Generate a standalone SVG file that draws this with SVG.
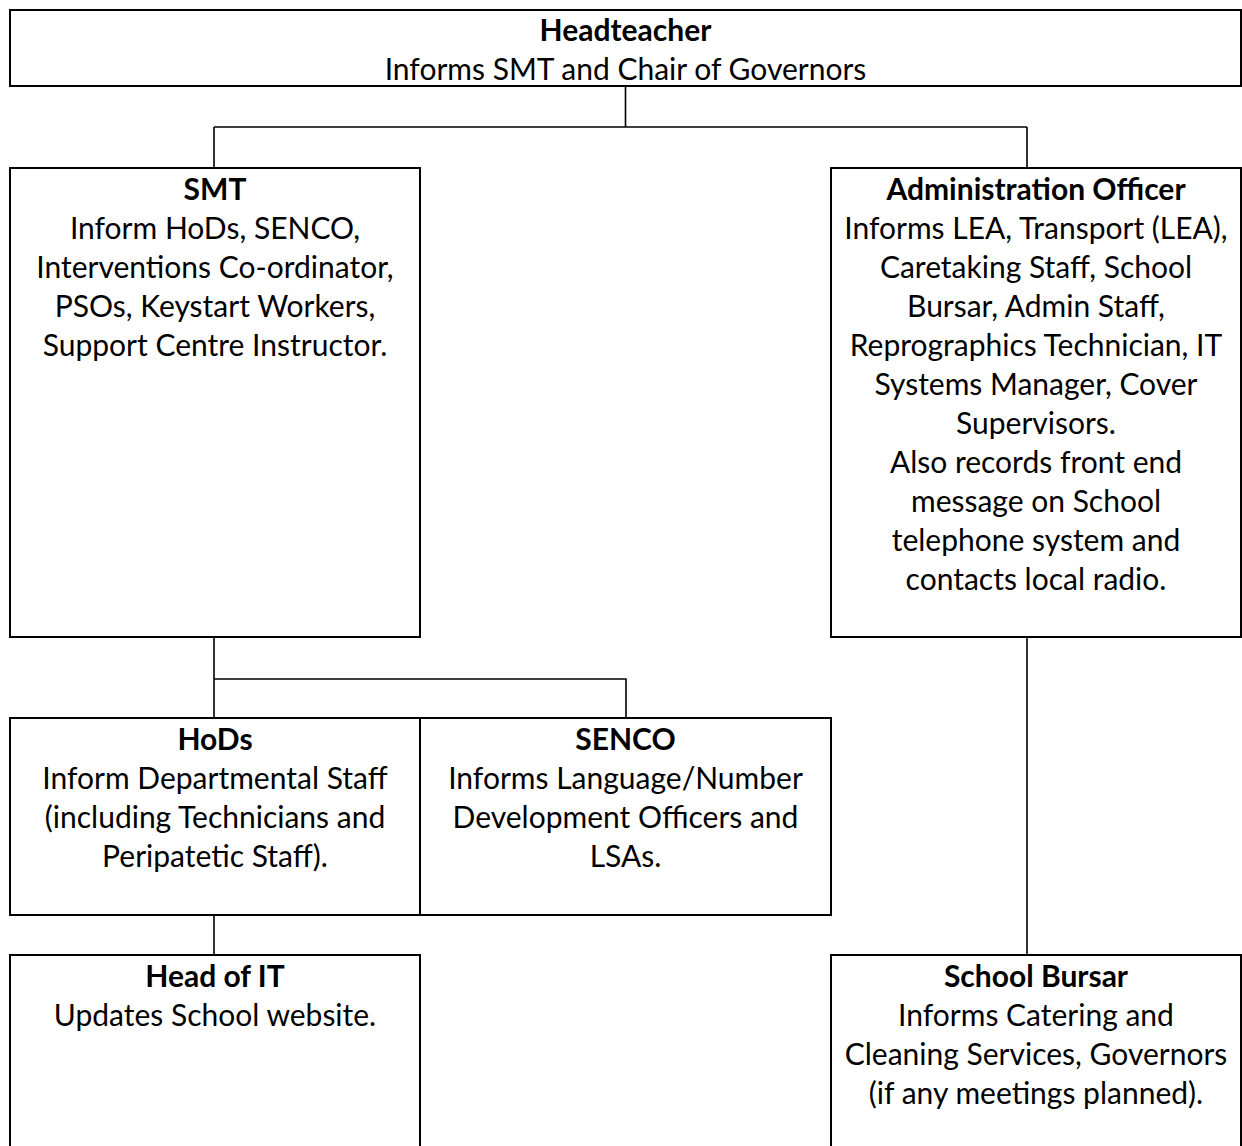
<svg xmlns="http://www.w3.org/2000/svg" width="1242" height="1146" viewBox="0 0 1242 1146">
<style>
.box{fill:#fff;stroke:#000;stroke-width:2}
.con{fill:none;stroke:#000;stroke-width:1.6}
text{font-family:Lato,"Liberation Sans",sans-serif;font-size:30px;fill:#000;text-anchor:middle}
.b{font-weight:bold}
</style>
<rect width="1242" height="1146" fill="#fff"/>
<g id="connectors">
<path class="con" d="M625.5 86V127M214 127H1027M214 127V168M1027 127V168"/>
<path class="con" d="M214 637V679H626V718M214 679V718"/>
<path class="con" d="M214 915V955"/>
<path class="con" d="M1027 637V955"/>
</g>
<g id="headteacher">
<rect class="box" x="10" y="10" width="1231" height="76"/>
<text x="625.5" y="41" class="b">Headteacher</text>
<text x="625.5" y="80">Informs SMT and Chair of Governors</text>
</g>
<g id="smt">
<rect class="box" x="10" y="168" width="410" height="469"/>
<text x="215" y="200" class="b">SMT</text>
<text x="215" y="239">Inform HoDs, SENCO,</text>
<text x="215" y="278">Interventions Co-ordinator,</text>
<text x="215" y="317">PSOs, Keystart Workers,</text>
<text x="215" y="356">Support Centre Instructor.</text>
</g>
<g id="admin">
<rect class="box" x="831" y="168" width="410" height="469"/>
<text x="1036" y="200" class="b">Administration Officer</text>
<text x="1036" y="239">Informs LEA, Transport (LEA),</text>
<text x="1036" y="278">Caretaking Staff, School</text>
<text x="1036" y="317">Bursar, Admin Staff,</text>
<text x="1036" y="356">Reprographics Technician, IT</text>
<text x="1036" y="395">Systems Manager, Cover</text>
<text x="1036" y="434">Supervisors.</text>
<text x="1036" y="473">Also records front end</text>
<text x="1036" y="512">message on School</text>
<text x="1036" y="551">telephone system and</text>
<text x="1036" y="590">contacts local radio.</text>
</g>
<g id="hods">
<rect class="box" x="10" y="718" width="410" height="197"/>
<text x="215" y="750" class="b">HoDs</text>
<text x="215" y="789">Inform Departmental Staff</text>
<text x="215" y="828">(including Technicians and</text>
<text x="215" y="867">Peripatetic Staff).</text>
</g>
<g id="senco">
<rect class="box" x="420" y="718" width="411" height="197"/>
<text x="625.5" y="750" class="b">SENCO</text>
<text x="625.5" y="789">Informs Language/Number</text>
<text x="625.5" y="828">Development Officers and</text>
<text x="625.5" y="867">LSAs.</text>
</g>
<g id="headofit">
<rect class="box" x="10" y="955" width="410" height="220"/>
<text x="215" y="987" class="b">Head of IT</text>
<text x="215" y="1026">Updates School website.</text>
</g>
<g id="bursar">
<rect class="box" x="831" y="955" width="410" height="220"/>
<text x="1036" y="987" class="b">School Bursar</text>
<text x="1036" y="1026">Informs Catering and</text>
<text x="1036" y="1065">Cleaning Services, Governors</text>
<text x="1036" y="1104">(if any meetings planned).</text>
</g>
</svg>
